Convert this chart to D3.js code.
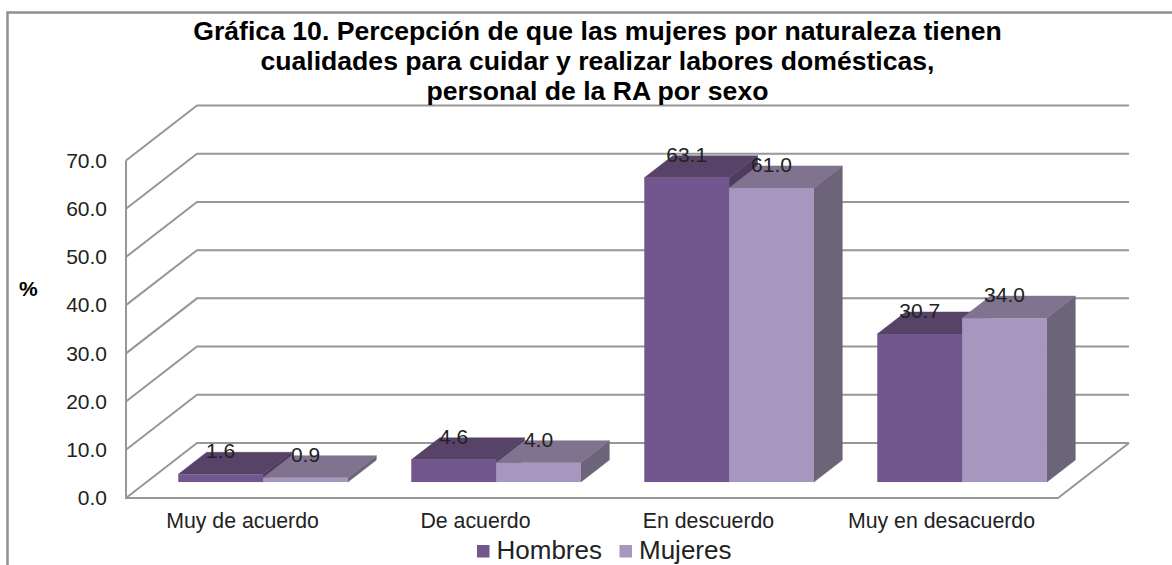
<!DOCTYPE html>
<html lang="es">
<head>
    <meta charset="UTF-8">
    <title>Gráfica 10</title>
    <style>
        html,body{margin:0;padding:0;background:#fff;overflow:hidden}
        svg{display:block}
        text{font-family:"Liberation Sans",Arial,sans-serif;fill:#222}
        .domain{display:none}
    </style>
    <script src="https://cdn.jsdelivr.net/npm/d3@7"></script>
</head>
<body>
<script>
    const categories = ["Muy de acuerdo","De acuerdo","En descuerdo","Muy en desacuerdo"]
    const seriesNames = ["Hombres","Mujeres"]
    const hombres = [1.6,4.6,63.1,30.7]
    const mujeres = [0.9,4.0,61.0,34.0]
    const yTicks = [0,10,20,30,40,50,60,70]
    const titleLines = ["Gráfica 10. Percepción de que las mujeres por naturaleza tienen",
        "cualidades para cuidar y realizar labores domésticas,",
        "personal de la RA por sexo"]

    const width = 1172
    const height = 565
    let svg = d3.select("body").append("svg")
        .attr("width",width).attr("height",height)

    //3d look: how far the back wall sits from the front edge
    const depthX = 71, depthY = -55
    const barStart = .29, barDepth = .4
    const gridColor = "#979797"

    const x = d3.scaleBand().domain(categories).range([126,1058]).paddingInner(.272).paddingOuter(.136)
    const y = d3.scaleLinear().domain([0,70]).range([498,160.5])
    const xSeries = d3.scaleBand().domain(seriesNames).range([0,x.bandwidth()])

    const colors = {
        Hombres:{front:"#72568e",top:"#574268",side:"#4e3b60"},
        Mujeres:{front:"#a796bd",top:"#80738f",side:"#6c6479"}
    }

    //frame, right side and bottom are cut off in the original
    svg.append("path").attr("d",`M7.5,${height}V12.5H${width}`)
        .attr("fill","none").attr("stroke","#8f8f8f").attr("stroke-width",2.5)

    //walls
    let gGrid = svg.append("g").attr("fill","none").attr("stroke",gridColor).attr("stroke-width",2)
    yTicks.forEach(t=>{
        gGrid.append("path")
            .attr("d",`M${x.range()[0]},${y(t)}l${depthX},${depthY}H${x.range()[1]+depthX}`)
    })
    gGrid.append("path")
        .attr("d",`M${x.range()[0]},${y(70)}V${y(0)}H${x.range()[1]}l${depthX},${depthY}`)

    //axes
    const yAxis = d3.axisLeft(y).tickValues(yTicks).tickSize(0).tickPadding(19).tickFormat(d3.format(".1f"))
    svg.append("g").attr("transform",`translate(${x.range()[0]},0)`).call(yAxis)
        .selectAll("text").attr("font-size",21).attr("font-family",null)
    const xAxis = d3.axisBottom(x).tickSize(0).tickPadding(15)
    svg.append("g").attr("transform",`translate(0,${y(0)})`).call(xAxis)
        .selectAll("text").attr("font-size",21.3).attr("font-family",null)

    //bars
    const rows = []
    categories.forEach((c,i)=>{
        rows.push({cat:c,name:"Hombres",value:hombres[i]})
        rows.push({cat:c,name:"Mujeres",value:mujeres[i]})
    })
    const offX = depthX*barStart, offY = depthY*barStart
    const bx = depthX*barDepth, by = depthY*barDepth
    let gBars = svg.selectAll(".bar").data(rows).enter().append("g").attr("class","bar")
        .attr("transform",d=>`translate(${x(d.cat)+xSeries(d.name)+offX},${offY})`)
    const w = xSeries.bandwidth()
    gBars.append("path")
        .attr("fill",d=>colors[d.name].side).attr("stroke",d=>colors[d.name].side).attr("stroke-width",.5)
        .attr("d",d=>`M${w},${y(d.value)}l${bx},${by}V${y(0)+by}l${-bx},${-by}Z`)
    gBars.append("path")
        .attr("fill",d=>colors[d.name].top).attr("stroke",d=>colors[d.name].top).attr("stroke-width",.5)
        .attr("d",d=>`M0,${y(d.value)}l${bx},${by}h${w}l${-bx},${-by}Z`)
    gBars.append("rect")
        .attr("fill",d=>colors[d.name].front)
        .attr("x",0).attr("width",w)
        .attr("y",d=>y(d.value)).attr("height",d=>y(0)-y(d.value))

    //value labels on top of everything
    svg.selectAll(".lbl").data(rows).enter().append("text").attr("class","lbl")
        .attr("text-anchor","middle").attr("font-size",21)
        .attr("x",d=>x(d.cat)+xSeries(d.name)+offX+w/2)
        .attr("y",d=>y(d.value)+offY-16)
        .text(d=>d.value.toFixed(1))

    //title
    svg.selectAll(".title").data(titleLines).enter().append("text").attr("class","title")
        .attr("text-anchor","middle").attr("x",597.5).attr("y",(d,i)=>40+i*30)
        .attr("font-size",26.6).attr("font-weight","bold").style("fill","#000")
        .text(d=>d)

    svg.append("text").attr("x",19).attr("y",296).attr("font-size",21).attr("font-weight","bold")
        .style("fill","#000").text("%")

    //legend
    const legendX = {Hombres:477,Mujeres:619.5}
    let gLegend = svg.selectAll(".leg").data(seriesNames).enter().append("g").attr("class","leg")
        .attr("transform",d=>`translate(${legendX[d]},0)`)
    gLegend.append("rect").attr("y",545).attr("width",12.5).attr("height",12.5).attr("fill",d=>colors[d].front)
    gLegend.append("text").attr("x",19.5).attr("y",559).attr("font-size",26).text(d=>d)
</script>
</body>
</html>
